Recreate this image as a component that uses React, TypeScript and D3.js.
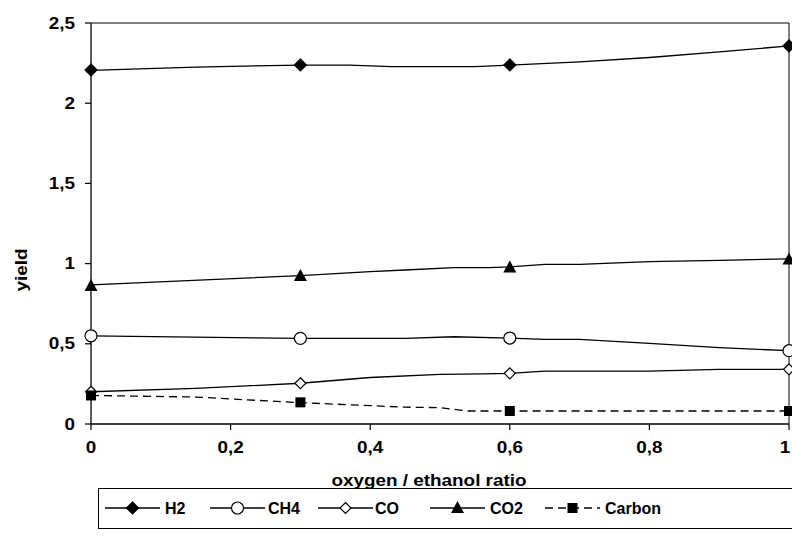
import React from "react";
import * as d3 from "d3";

const xTicks = [0, 0.2, 0.4, 0.6, 0.8, 1];
const xTickLabels = ["0", "0,2", "0,4", "0,6", "0,8", "1"];
const yTicks = [0, 0.5, 1, 1.5, 2, 2.5];
const yTickLabels = ["0", "0,5", "1", "1,5", "2", "2,5"];

const markerX = [0, 0.3, 0.6, 1];
const h2Markers = [2.207, 2.238, 2.238, 2.357];
const ch4Markers = [0.55, 0.534, 0.536, 0.457];
const coMarkers = [0.201, 0.254, 0.316, 0.341];
const co2Markers = [0.86, 0.922, 0.975, 1.025];
const carbonMarkers = [0.178, 0.135, 0.081, 0.081];

const h2LineX = [0, 0.15, 0.3, 0.37, 0.43, 0.55, 0.6, 0.7, 0.8, 0.9, 1];
const h2LineY = [2.205, 2.225, 2.238, 2.238, 2.228, 2.228, 2.238, 2.258, 2.285, 2.32, 2.357];
const ch4LineX = [0, 0.3, 0.45, 0.52, 0.6, 0.65, 0.7, 0.8, 0.9, 1];
const ch4LineY = [0.55, 0.534, 0.534, 0.544, 0.536, 0.528, 0.528, 0.503, 0.476, 0.457];
const coLineX = [0, 0.15, 0.3, 0.4, 0.5, 0.56, 0.6, 0.65, 0.8, 0.9, 1];
const coLineY = [0.201, 0.222, 0.254, 0.29, 0.31, 0.312, 0.316, 0.33, 0.33, 0.34, 0.341];
const co2LineX = [0, 0.3, 0.4, 0.45, 0.52, 0.57, 0.6, 0.65, 0.7, 0.8, 0.9, 1];
const co2LineY = [0.867, 0.925, 0.95, 0.96, 0.975, 0.975, 0.98, 0.995, 0.995, 1.012, 1.02, 1.03];
const carbonLineX = [0, 0.15, 0.3, 0.37, 0.45, 0.5, 0.54, 0.6, 1];
const carbonLineY = [0.178, 0.168, 0.133, 0.12, 0.105, 0.102, 0.081, 0.081, 0.081];

const seriesNames = ["H2", "CH4", "CO", "CO2", "Carbon"];

const W = 792, H = 543;
const left = 91, right = 789, top = 23, bottom = 424;
const FONT = "'Liberation Sans', Arial, sans-serif";
const SX = 1.18;

const x = d3.scaleLinear().domain([0, 1]).range([left, right]);
const y = d3.scaleLinear().domain([0, 2.5]).range([bottom, top]);

type Kind = "diamond" | "circle" | "odiamond" | "triangle" | "square";

function Marker({ kind, cx, cy }: { kind: Kind; cx: number; cy: number }) {
  if (kind === "diamond" || kind === "odiamond") {
    const r = kind === "diamond" ? 6 : 5.5;
    return (
      <path
        d={`M${cx},${cy - r}L${cx + r},${cy}L${cx},${cy + r}L${cx - r},${cy}Z`}
        fill={kind === "diamond" ? "#000" : "#fff"}
        stroke="#000"
        strokeWidth={1.2}
      />
    );
  }
  if (kind === "circle") return <circle cx={cx} cy={cy} r={6} fill="#fff" stroke="#000" strokeWidth={1.2} />;
  if (kind === "triangle")
    return <path d={`M${cx},${cy - 7}L${cx + 6.5},${cy + 5}L${cx - 6.5},${cy + 5}Z`} fill="#000" />;
  return <rect x={cx - 5} y={cy - 5} width={10} height={10} fill="#000" />;
}

function SText({ tx, ty, anchor, children, rotate }: { tx: number; ty: number; anchor: string; children: any; rotate?: number }) {
  return (
    <g transform={`translate(${tx},${ty})${rotate ? ` rotate(${rotate})` : ""} scale(${SX},1)`}>
      <text x={0} y={0} dy="0.35em" textAnchor={anchor} fontSize={16} fontWeight="bold">
        {children}
      </text>
    </g>
  );
}

const series = [
  { name: seriesNames[0], lx: h2LineX, ly: h2LineY, m: h2Markers, kind: "diamond" as Kind, dash: undefined },
  { name: seriesNames[1], lx: ch4LineX, ly: ch4LineY, m: ch4Markers, kind: "circle" as Kind, dash: undefined },
  { name: seriesNames[2], lx: coLineX, ly: coLineY, m: coMarkers, kind: "odiamond" as Kind, dash: undefined },
  { name: seriesNames[3], lx: co2LineX, ly: co2LineY, m: co2Markers, kind: "triangle" as Kind, dash: undefined },
  { name: seriesNames[4], lx: carbonLineX, ly: carbonLineY, m: carbonMarkers, kind: "square" as Kind, dash: "8,5" },
];

export default function App() {
  const line = d3
    .line<[number, number]>()
    .x((d) => x(d[0]))
    .y((d) => y(d[1]));

  const legendItems = [
    { lx: 105, tx: 165 },
    { lx: 210, tx: 268 },
    { lx: 318, tx: 375 },
    { lx: 430, tx: 490 },
    { lx: 545, tx: 605 },
  ];

  return (
    <svg width={W} height={H} style={{ position: "absolute", left: 0, top: 0, background: "#fff" }} fontFamily={FONT}>
      <rect x={0} y={0} width={W} height={H} fill="#fff" />
      <line x1={left} x2={right} y1={top} y2={top} stroke="#000" strokeWidth={1} />
      <line x1={right} x2={right} y1={top} y2={bottom} stroke="#000" strokeWidth={1} />
      <line x1={left} x2={left} y1={top} y2={bottom} stroke="#000" strokeWidth={1.3} />
      <line x1={left} x2={right} y1={bottom} y2={bottom} stroke="#000" strokeWidth={1.3} />
      {yTicks.map((t, i) => (
        <g key={"y" + i}>
          <line x1={left - 6} x2={left} y1={y(t)} y2={y(t)} stroke="#000" strokeWidth={1.2} />
          <SText tx={75} ty={y(t)} anchor="end">{yTickLabels[i]}</SText>
        </g>
      ))}
      {xTicks.map((t, i) => (
        <g key={"x" + i}>
          <line x1={x(t)} x2={x(t)} y1={bottom} y2={bottom + 6} stroke="#000" strokeWidth={1.2} />
          <SText tx={Math.min(x(t), W - 7)} ty={447} anchor="middle">{xTickLabels[i]}</SText>
        </g>
      ))}
      <SText tx={429} ty={480} anchor="middle">oxygen / ethanol ratio</SText>
      <SText tx={21} ty={270} anchor="middle" rotate={-90}>yield</SText>
      {series.map((s, si) => (
        <g key={"s" + si}>
          <path
            d={line(s.lx.map((v, i) => [v, s.ly[i]] as [number, number])) || ""}
            fill="none"
            stroke="#000"
            strokeWidth={1.3}
            strokeDasharray={s.dash}
          />
          {s.m.map((v, i) => (
            <Marker key={i} kind={s.kind} cx={x(markerX[i])} cy={y(v)} />
          ))}
        </g>
      ))}
      <rect x={98.5} y={488.5} width={700} height={40} fill="#fff" stroke="#000" strokeWidth={1} />
      {series.map((s, i) => {
        const it = legendItems[i];
        const cy = 508;
        return (
          <g key={"l" + i}>
            <line x1={it.lx} x2={it.lx + 55} y1={cy} y2={cy} stroke="#000" strokeWidth={1.3} strokeDasharray={s.dash ? "8,5" : undefined} />
            <Marker kind={s.kind} cx={it.lx + 27.5} cy={cy} />
            <text x={it.tx} y={cy} dy="0.35em" fontSize={16} fontWeight="bold">
              {s.name}
            </text>
          </g>
        );
      })}
    </svg>
  );
}
